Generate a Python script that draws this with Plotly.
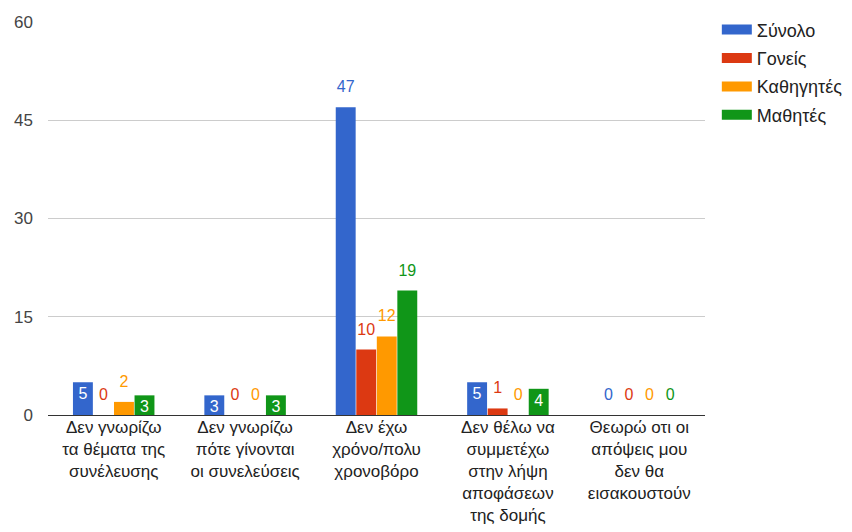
import plotly.graph_objects as go

categories = [
    "Δεν γνωρίζω<br>τα θέματα της<br>συνέλευσης",
    "Δεν γνωρίζω<br>πότε γίνονται<br>οι συνελεύσεις",
    "Δεν έχω<br>χρόνο/πολυ<br>χρονοβόρο",
    "Δεν θέλω να<br>συμμετέχω<br>στην λήψη<br>αποφάσεων<br>της δομής",
    "Θεωρώ οτι οι<br>απόψεις μου<br>δεν θα<br>εισακουστούν",
]
series_names = ["Σύνολο", "Γονείς", "Καθηγητές", "Μαθητές"]
total = [5, 3, 47, 5, 0]
parents = [0, 0, 10, 1, 0]
teachers = [2, 0, 12, 0, 0]
students = [3, 3, 19, 4, 0]
colors = ["#3366cc", "#dc3912", "#ff9900", "#109618"]
y_ticks = [0, 15, 30, 45, 60]

fig = go.Figure()
for i, (name, vals, col) in enumerate(zip(series_names, [total, parents, teachers, students], colors)):
    inside = [3 <= v <= 5 for v in vals]
    fig.add_trace(go.Bar(
        name=name, x=categories, y=vals, marker=dict(color=col, line=dict(width=0)),
        text=[str(v) if ins else "" for v, ins in zip(vals, inside)],
        textposition="inside", insidetextanchor="end",
        insidetextfont=dict(color="white", size=16, family="Arial"),
        textangle=0, constraintext="none", cliponaxis=False,
        offsetgroup=str(i), showlegend=False,
    ))
    fig.add_trace(go.Scatter(
        x=categories, y=vals, mode="markers+text",
        marker=dict(size=16, opacity=0),
        text=["" if ins else str(v) for v, ins in zip(vals, inside)],
        textposition="top center",
        textfont=dict(color=col, size=16, family="Arial"),
        offsetgroup=str(i), cliponaxis=False, showlegend=False, hoverinfo="skip",
    ))
for name, col in zip(series_names, colors):
    fig.add_trace(go.Scatter(
        x=[None], y=[None], mode="lines", name=name, legendgroup=name,
        line=dict(color=col, width=15),
    ))

fig.update_layout(
    width=852, height=532,
    margin=dict(l=40, r=155, t=14, b=125, autoexpand=False),
    plot_bgcolor="white", paper_bgcolor="white",
    barmode="group", bargap=0.375, bargroupgap=0.03,
    scattermode="group", scattergap=0.375,
    font=dict(family="Arial", size=17, color="#222222"),
    showlegend=True,
    legend=dict(x=1.018, y=1.027, xanchor="left", yanchor="top",
                font=dict(size=18, color="#222222"), tracegroupgap=2,
                itemwidth=30),
    uniformtext=dict(mode=False),
)
fig.update_yaxes(range=[0, 60], tickvals=y_ticks, showgrid=True, gridcolor="#cccccc",
                 zeroline=True, zerolinecolor="#333333", zerolinewidth=1,
                 tickfont=dict(size=17, color="#444444"), ticks="", ticklen=0,
                 automargin=False, ticklabelstandoff=14)
fig.update_xaxes(tickfont=dict(size=17, color="#222222"), showline=False, ticks="",
                 automargin=False)

fig.write_html("out.html")
